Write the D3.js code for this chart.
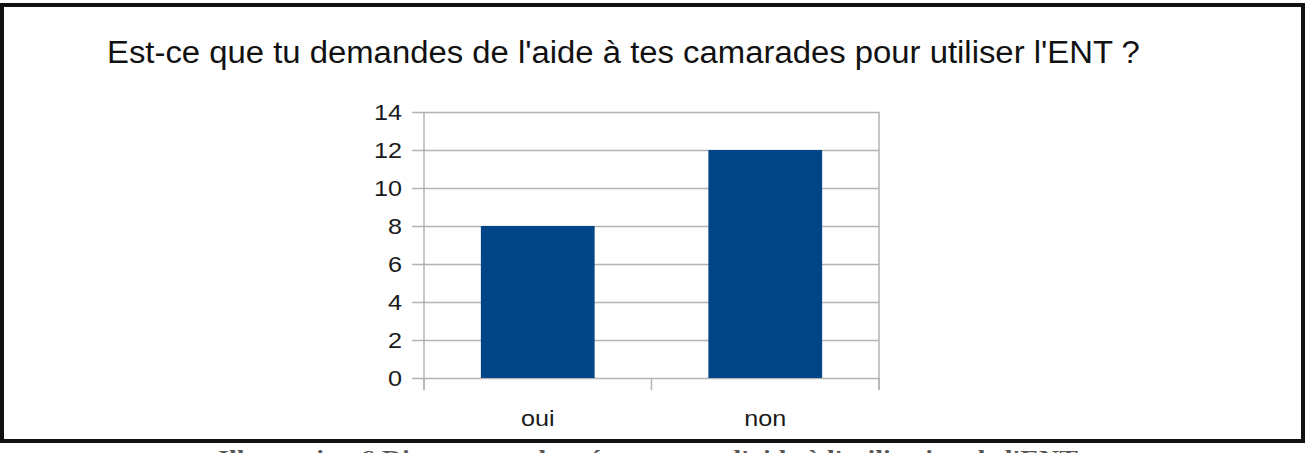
<!DOCTYPE html>
<html><head><meta charset="utf-8">
<script src="https://cdn.jsdelivr.net/npm/d3@7"></script>
<style>body{margin:0;background:#fff}svg{display:block}</style>
</head><body><svg id="c" width="1308" height="453"></svg>
<script>
const categories = ["oui", "non"];
const values = [8, 12];
const yTicks = [0, 2, 4, 6, 8, 10, 12, 14];
const titleText = "Est-ce que tu demandes de l'aide à tes camarades pour utiliser l'ENT ?";
const captionText = "Illustration 6 Diagramme des réponses sur l'aide à l'utilisation de l'ENT";

const svg = d3.select("#c");
const font = "'Liberation Sans', Arial, sans-serif";
const sx = 1.12; // horizontal stretch seen in the reference text

// frame
svg.append("rect").attr("x", 2).attr("y", 5).attr("width", 1301).attr("height", 436)
  .attr("fill", "#fff").attr("stroke", "#111").attr("stroke-width", 4);

const x = d3.scaleBand().domain(categories).range([424, 879]).paddingInner(0.5).paddingOuter(0.25);
const y = d3.scaleLinear().domain([0, 14]).range([378, 112]);

// gridlines + left ticks
svg.append("g").selectAll("line").data(yTicks).join("line")
  .attr("x1", 412).attr("x2", 879)
  .attr("y1", d => Math.round(y(d)) + 0.5).attr("y2", d => Math.round(y(d)) + 0.5)
  .attr("stroke", "#b3b3b3").attr("stroke-width", 1.5);

// vertical axis lines
[424, 879].forEach(px => svg.append("line").attr("x1", px).attr("x2", px)
  .attr("y1", y(14)).attr("y2", 390).attr("stroke", "#b3b3b3").attr("stroke-width", 1.5));

// category ticks at band boundaries
const step = x.step();
d3.range(categories.length + 1).forEach(i => {
  const px = x.range()[0] + i * step;
  svg.append("line").attr("x1", px).attr("x2", px).attr("y1", y(0)).attr("y2", 390)
    .attr("stroke", "#b3b3b3").attr("stroke-width", 1.5);
});

// bars
svg.append("g").selectAll("rect").data(categories).join("rect")
  .attr("x", d => x(d)).attr("width", x.bandwidth())
  .attr("y", (d, i) => y(values[i])).attr("height", (d, i) => y(0) - y(values[i]))
  .attr("fill", "#004586");

// y labels
svg.append("g").selectAll("text").data(yTicks).join("text")
  .attr("transform", d => `translate(402,${y(d)}) scale(${sx},1)`)
  .attr("dy", "0.36em")
  .attr("text-anchor", "end").attr("font-family", font).attr("font-size", 22.5)
  .attr("fill", "#1a1a1a").text(d => d);

// category labels
svg.append("g").selectAll("text").data(categories).join("text")
  .attr("transform", d => `translate(${x(d) + x.bandwidth() / 2},426) scale(${sx},1)`)
  .attr("text-anchor", "middle").attr("font-family", font).attr("font-size", 22.5)
  .attr("fill", "#1a1a1a").text(d => d);

// title, stretched horizontally to the reference's span
const t = svg.append("text").attr("font-family", font).attr("font-size", 31).attr("fill", "#111")
  .text(titleText);
const tw = t.node().getComputedTextLength();
t.attr("transform", `translate(107,63) scale(${1033 / tw},1)`);

// caption (cut off by page bottom)
svg.append("text").attr("x", 218).attr("y", 465)
  .attr("font-family", "'Liberation Serif', 'Times New Roman', serif").attr("font-weight", "bold")
  .attr("font-size", 22).attr("fill", "#555")
  .attr("textLength", 860).attr("lengthAdjust", "spacingAndGlyphs")
  .text(captionText);
</script></body></html>
